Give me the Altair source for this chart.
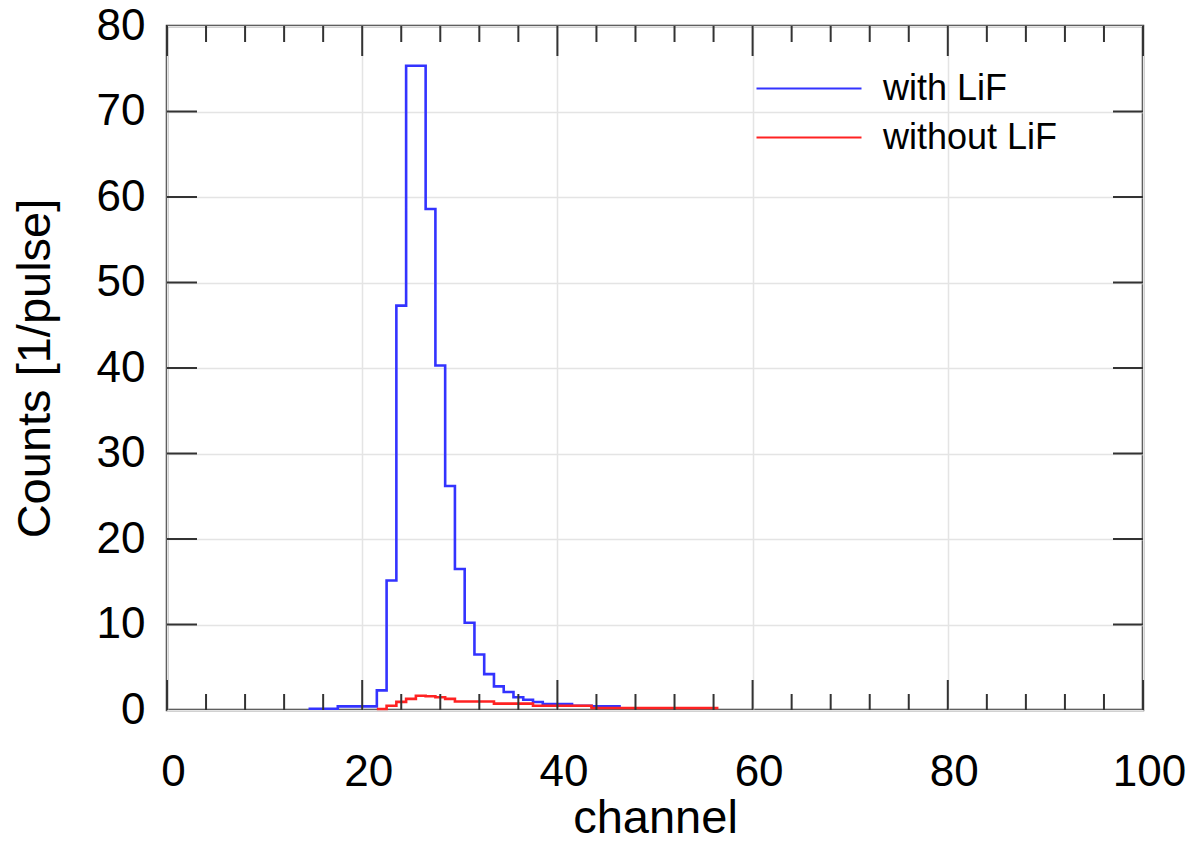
import altair as alt
import pandas as pd

# ---- data ----
blue_channels = list(range(15, 47))
blue_counts = [0.15, 0.15, 0.15, 0.42, 0.42, 0.42, 0.42, 2.3, 15.15, 47.3,
               75.35, 75.35, 58.6, 40.3, 26.2, 16.5, 10.2, 6.5, 4.2, 2.76,
               2.1, 1.5, 1.2, 0.94, 0.7, 0.7, 0.7, 0.5, 0.5, 0.42, 0.42, 0.42]

red_channels = list(range(22, 57))
red_counts = [0.12, 0.5, 0.95, 1.3, 1.67, 1.6, 1.5, 1.3, 1.0, 1.0, 1.0, 1.0,
              0.74, 0.74, 0.74, 0.74, 0.5, 0.5, 0.5, 0.5, 0.5, 0.5,
              0.23, 0.23, 0.23, 0.23, 0.23, 0.23, 0.23, 0.23, 0.23, 0.23,
              0.23, 0.23, 0.23]

series_names = ["with LiF", "without LiF"]
series_colors = ["#3333ff", "#ff2222"]

x_ticks_major = [0, 20, 40, 60, 80, 100]
x_ticks_minor = [v for v in range(4, 100, 4) if v % 20 != 0]
y_ticks = [10, 20, 30, 40, 50, 60, 70]


def step_rows(name, chans, vals):
    rows = [{"series": name, "x": c - 0.5, "y": v} for c, v in zip(chans, vals)]
    rows.append({"series": name, "x": chans[-1] + 0.5, "y": vals[-1]})
    return rows


df = pd.DataFrame(step_rows(series_names[0], blue_channels, blue_counts)
                  + step_rows(series_names[1], red_channels, red_counts))
df["order"] = df["series"].map({series_names[0]: 0, series_names[1]: 1})

W, H = 976, 684
FONT = "Liberation Sans"

xscale = alt.Scale(domain=[0, 100], nice=False)
yscale = alt.Scale(domain=[0, 80], nice=False)

lines = alt.Chart(df).mark_line(interpolate="step-after", strokeWidth=2.6).encode(
    x=alt.X("x:Q", scale=xscale,
            axis=alt.Axis(values=x_ticks_major, title="channel", grid=True,
                          labelPadding=40, labelOffset=6, labelFlush=False,
                          tickSize=0, ticks=False, domain=False,
                          titlePadding=1)),
    y=alt.Y("y:Q", scale=yscale,
            axis=alt.Axis(values=[0] + y_ticks + [80], title="Counts [1/pulse]",
                          grid=True, labelPadding=22, tickSize=0, ticks=False,
                          domain=False, titlePadding=37)),
    color=alt.Color("series:N", title=None,
                    scale=alt.Scale(domain=series_names, range=series_colors),
                    legend=alt.Legend(orient="none", legendX=588, legendY=38,
                                      symbolType="stroke", symbolSize=11025,
                                      symbolStrokeWidth=2.2, labelFontSize=36,
                                      labelFont=FONT, labelOffset=20,
                                      labelLimit=500,
                                      clipHeight=49, rowPadding=0, padding=0,
                                      labelColor="#000000")),
    order="order:Q",
)

tick_color = "#333333"
tdf_xmaj = pd.DataFrame({"v": x_ticks_major})
tdf_xmin = pd.DataFrame({"v": x_ticks_minor})
tdf_y = pd.DataFrame({"v": y_ticks})

xmaj_bottom = alt.Chart(tdf_xmaj).mark_rule(color=tick_color, strokeWidth=2).encode(
    x=alt.X("v:Q", scale=xscale), y=alt.value(H), y2=alt.value(H - 30))
xmin_bottom = alt.Chart(tdf_xmin).mark_rule(color=tick_color, strokeWidth=2).encode(
    x=alt.X("v:Q", scale=xscale), y=alt.value(H), y2=alt.value(H - 16))
xmaj_top = alt.Chart(tdf_xmaj).mark_rule(color=tick_color, strokeWidth=2).encode(
    x=alt.X("v:Q", scale=xscale), y=alt.value(0), y2=alt.value(30))
xmin_top = alt.Chart(tdf_xmin).mark_rule(color=tick_color, strokeWidth=2).encode(
    x=alt.X("v:Q", scale=xscale), y=alt.value(0), y2=alt.value(16))
y_left = alt.Chart(tdf_y).mark_rule(color=tick_color, strokeWidth=2).encode(
    y=alt.Y("v:Q", scale=yscale), x=alt.value(0), x2=alt.value(30))
y_right = alt.Chart(tdf_y).mark_rule(color=tick_color, strokeWidth=2).encode(
    y=alt.Y("v:Q", scale=yscale), x=alt.value(W), x2=alt.value(W - 30))

chart = alt.layer(
    lines, xmaj_bottom, xmin_bottom, xmaj_top, xmin_top, y_left, y_right
).properties(
    width=W, height=H,
    autosize=alt.AutoSizeParams(type="none"),
    padding={"left": 159, "top": 18, "right": 44, "bottom": 127},
    background="#ffffff",
).configure_view(
    stroke="#333333", strokeWidth=2.5
).configure_axis(
    labelFont=FONT, labelFontSize=44, labelColor="#000000",
    titleFont=FONT, titleFontSize=47, titleColor="#000000",
    titleFontWeight="normal",
    gridColor="#e4e4e4", gridWidth=1.5,
)

chart.save("out.html", embed_options={"renderer": "svg", "actions": False})
